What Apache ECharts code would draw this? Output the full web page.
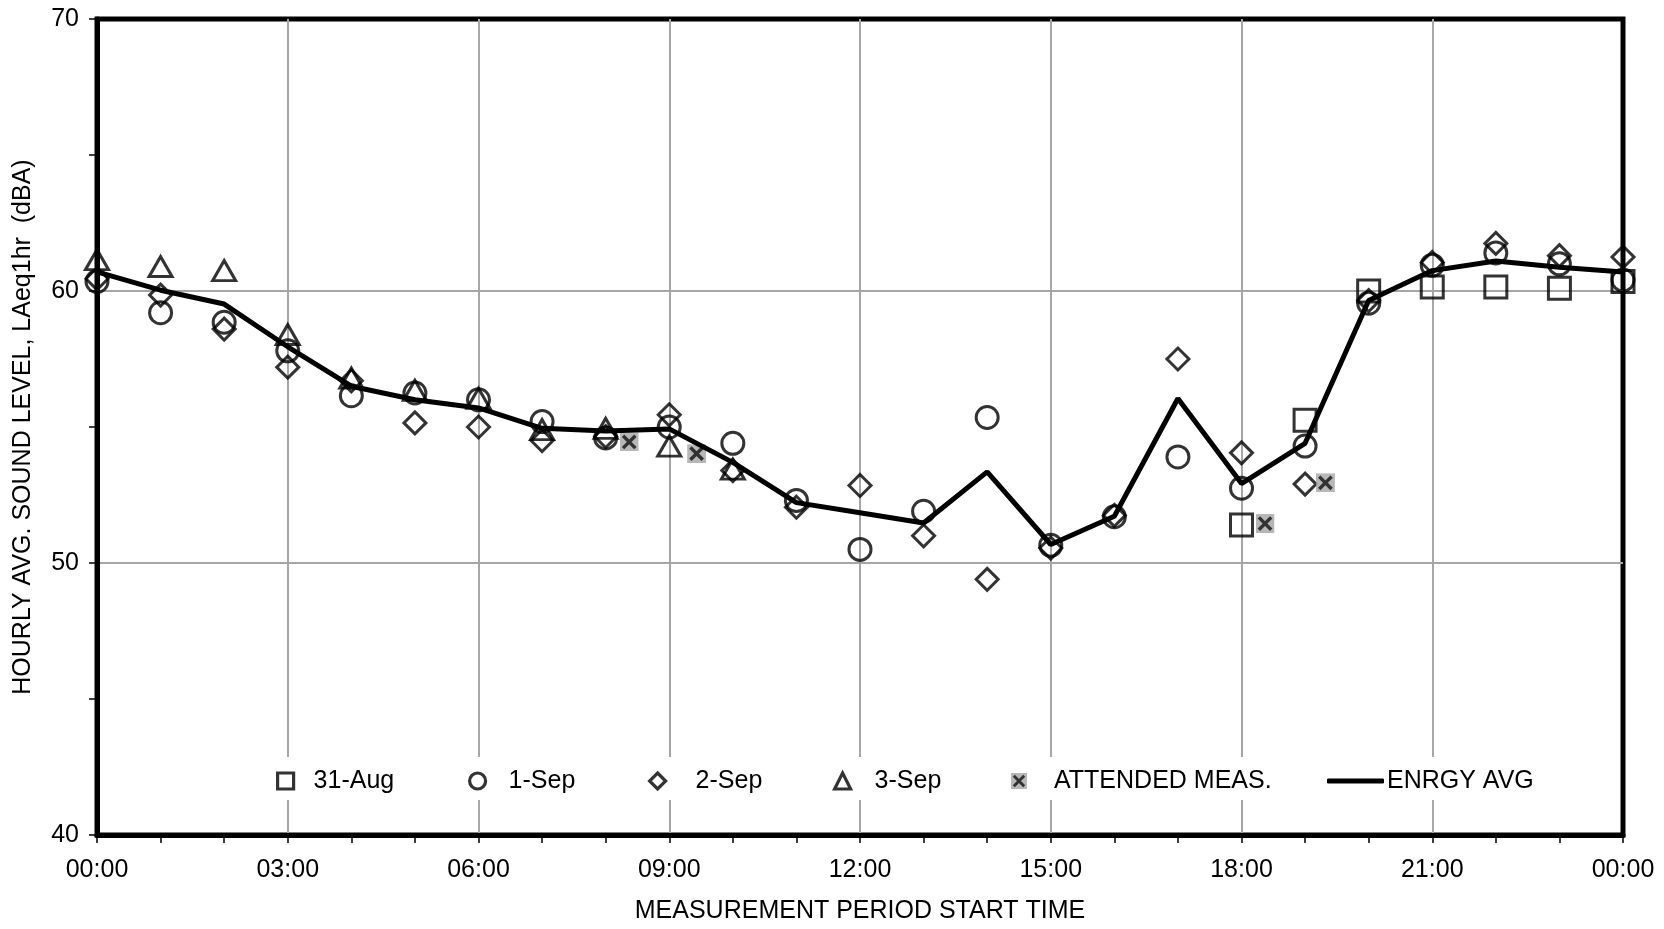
<!DOCTYPE html>
<html>
<head>
<meta charset="utf-8">
<script src="https://cdn.jsdelivr.net/npm/echarts@6/dist/echarts.min.js"></script>
<style>
  html, body { margin: 0; padding: 0; background: #fff; }
  #chart { width: 1664px; height: 929px; }
</style>
</head>
<body>
<div id="chart"></div>
<script>
// ---- data ----
const hours = [0,1,2,3,4,5,6,7,8,9,10,11,12,13,14,15,16,17,18,19,20,21,22,23,24];
const aug31 = [null,null,null,null,null,null,null,null,null,null,null,null,null,null,null,null,null,null,51.4,55.25,60.0,60.15,60.15,60.1,60.35];
const sep1  = [60.35,59.2,58.85,57.8,56.15,56.25,56.0,55.2,54.6,55.0,54.4,52.3,50.5,51.9,55.35,50.65,51.7,53.9,52.75,54.3,59.55,60.95,61.4,61.0,60.4];
const sep2  = [60.45,59.85,58.6,57.2,56.7,55.15,55.0,54.5,54.65,55.45,53.4,52.05,52.85,51.0,49.4,50.55,51.75,57.5,54.05,52.9,59.65,61.05,61.75,61.3,61.25];
const sep3  = [61.15,60.9,60.75,58.4,56.8,56.35,56.05,54.9,54.95,54.3,53.45,null,null,null,null,null,null,null,null,null,null,null,null,null,null];
const energyAvg = [60.7,60.03,59.52,57.95,56.5,56.0,55.7,54.95,54.85,54.93,53.7,52.22,51.85,51.47,53.35,50.68,51.72,56.05,52.92,54.4,59.65,60.75,61.1,60.87,60.7];
const attendedTimes  = [8.37, 9.43, 18.37, 19.32];
const attendedLevels = [54.45, 54.02, 51.45, 52.95];
const seriesNames = ['31-Aug','1-Sep','2-Sep','3-Sep','ATTENDED MEAS.','ENRGY AVG'];
const xTickLabels = ['00:00','03:00','06:00','09:00','12:00','15:00','18:00','21:00','00:00'];
const yTickLabels = ['40','50','60','70'];
const xTitle = 'MEASUREMENT PERIOD START TIME';
const yTitle = 'HOURLY AVG. SOUND LEVEL, LAeq1hr  (dBA)';

// ---- build ----
function pairs(xs, ys) {
  const out = [];
  for (let i = 0; i < xs.length; i++) if (ys[i] != null) out.push([xs[i], ys[i]]);
  return out;
}
const FONT = '"Liberation Sans", Arial, sans-serif';
const attSvg = '<svg xmlns="http://www.w3.org/2000/svg" width="20" height="20" viewBox="0 0 20 20">' +
  '<rect x="0" y="0" width="20" height="20" fill="#a6a6a6"/>' +
  '<path d="M3.5,3.5 L16.5,16.5 M16.5,3.5 L3.5,16.5" stroke="#000" stroke-width="3.6" fill="none"/></svg>';
const attSymbol = 'image://data:image/svg+xml;charset=utf-8,' + encodeURIComponent(attSvg);

const hollow = { color: 'rgba(0,0,0,0)', borderColor: '#000', borderWidth: 3 };

function scatter(name, data, symbol, size) {
  return {
    name, type: 'scatter', data, symbol, symbolSize: size, clip: false,
    itemStyle: hollow, z: 2, emphasis: { disabled: true }
  };
}

const legendSpec = [
  { name: seriesNames[0], left: 276, pad: 15 },
  { name: seriesNames[1], left: 468, pad: 18 },
  { name: seriesNames[2], left: 648, pad: 25 },
  { name: seriesNames[3], left: 833, pad: 19 },
  { name: seriesNames[4], left: 1011, pad: 22 }
];
const legendText = { fontFamily: FONT, fontSize: 25, color: '#000', lineHeight: 28 };
const legends = legendSpec.map(s => ({
  data: [s.name], left: s.left, top: 767, padding: 0,
  itemWidth: 16, itemHeight: 16, selectedMode: false,
  itemStyle: { borderWidth: 3.2 },
  textStyle: Object.assign({ padding: [0, 0, 0, s.pad] }, legendText)
}));
legends.push({
  data: [{ name: seriesNames[5], icon: 'roundRect' }], left: 1327, top: 767, padding: 0,
  itemWidth: 57, itemHeight: 5, selectedMode: false,
  itemStyle: { color: '#000', borderWidth: 0 },
  textStyle: Object.assign({ padding: [0, 0, 0, -2] }, legendText)
});

const chart = echarts.init(document.getElementById('chart'), null, { renderer: 'canvas' });
chart.setOption({
  animation: false,
  backgroundColor: '#fff',
  grid: { left: 97, right: 41, top: 19, bottom: 90, show: true, borderColor: '#000', borderWidth: 5, backgroundColor: 'transparent' },
  graphic: [{ type: 'rect', shape: { x: 262, y: 757, width: 1290, height: 43 }, style: { fill: '#fff' }, z: 3, silent: true }],
  legend: legends,
  xAxis: {
    type: 'value', min: 0, max: 24, interval: 3,
    axisLine: { show: true, lineStyle: { color: '#000', width: 5 } },
    axisTick: { show: true, length: 8, lineStyle: { color: '#000', width: 1.5 } },
    minorTick: { show: true, splitNumber: 3, length: 8, lineStyle: { color: '#000', width: 1.5 } },
    splitLine: { show: true, showMinLine: false, showMaxLine: false, lineStyle: { color: '#a6a6a6', width: 2 } },
    axisLabel: { margin: 23, fontFamily: FONT, fontSize: 25, color: '#000',
      formatter: v => xTickLabels[Math.round(v / 3)] },
    name: xTitle, nameLocation: 'middle', nameGap: 64,
    nameTextStyle: { fontFamily: FONT, fontSize: 25, color: '#000' }
  },
  yAxis: {
    type: 'value', min: 40, max: 70, interval: 10,
    axisLine: { show: true, lineStyle: { color: '#000', width: 5 } },
    axisTick: { show: true, length: 8, lineStyle: { color: '#000', width: 1.5 } },
    minorTick: { show: true, splitNumber: 2, length: 8, lineStyle: { color: '#000', width: 1.5 } },
    splitLine: { show: true, showMinLine: false, showMaxLine: false, lineStyle: { color: '#a6a6a6', width: 2 } },
    axisLabel: { margin: 18, fontFamily: FONT, fontSize: 25, color: '#000',
      formatter: v => yTickLabels[Math.round((v - 40) / 10)] },
    name: yTitle, nameLocation: 'middle', nameGap: 61, nameRotate: 90,
    nameTextStyle: { fontFamily: FONT, fontSize: 25, color: '#000' }
  },
  series: [
    scatter(seriesNames[0], pairs(hours, aug31), 'rect', 22),
    scatter(seriesNames[1], pairs(hours, sep1), 'circle', 22),
    scatter(seriesNames[2], pairs(hours, sep2), 'diamond', 22),
    scatter(seriesNames[3], pairs(hours, sep3), 'triangle', [23, 20]),
    { name: seriesNames[4], type: 'scatter', data: pairs(attendedTimes, attendedLevels),
      symbol: attSymbol, symbolSize: 19, clip: false, z: 2, emphasis: { disabled: true } },
    { name: seriesNames[5], type: 'line', data: pairs(hours, energyAvg), symbol: 'none', showSymbol: false,
      lineStyle: { color: '#000', width: 5 }, itemStyle: { color: '#000' }, z: 4, clip: false,
      emphasis: { disabled: true } }
  ]
});
</script>
</body>
</html>
